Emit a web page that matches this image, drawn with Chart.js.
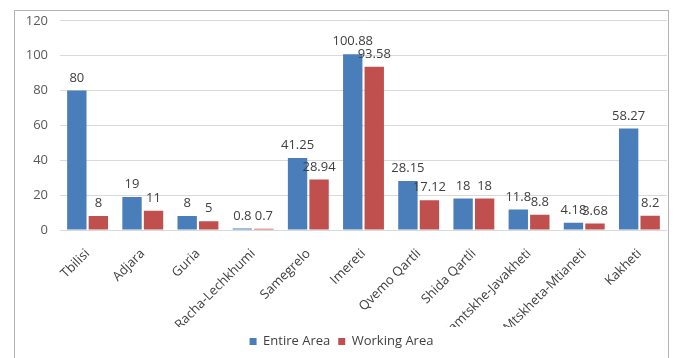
<!DOCTYPE html>
<html>
<head>
<meta charset="utf-8">
<script src="https://cdn.jsdelivr.net/npm/chart.js@4/dist/chart.umd.min.js"></script>
<style>
  body { margin: 0; background: #fff; width: 677px; height: 358px; overflow: hidden; position: relative; }
  #frame { position: absolute; left: 14px; top: 10px; width: 653px; height: 360px; border: 1px solid #b3b3b3; }
  #wrap { position: absolute; left: 16px; top: 1px; width: 651px; height: 357px; }
</style>
</head>
<body>
<div id="frame"></div>
<div id="wrap"><canvas id="regionChart"></canvas></div>
<script>
const regions = ['Tbilisi', 'Adjara', 'Guria', 'Racha-Lechkhumi', 'Samegrelo', 'Imereti', 'Qvemo Qartli', 'Shida Qartli', 'Samtskhe-Javakheti', 'Mtskheta-Mtianeti', 'Kakheti'];
const entireArea = [80, 19, 8, 0.8, 41.25, 100.88, 28.15, 18, 11.8, 4.18, 58.27];
const workingArea = [8, 11, 5, 0.7, 28.94, 93.58, 17.12, 18, 8.8, 3.68, 8.2];
const yTicks = [0, 20, 40, 60, 80, 100, 120];

const FONT = '"Open Sans", "Liberation Sans", sans-serif';

// value labels above each bar
const barLabels = {
    id: 'barLabels',
    afterDatasetsDraw(chart) {
        const ctx = chart.ctx;
        ctx.save();
        ctx.font = '13px ' + FONT;
        ctx.fillStyle = '#404040';
        ctx.textAlign = 'center';
        ctx.textBaseline = 'bottom';
        chart.data.datasets.forEach((ds, i) => {
            chart.getDatasetMeta(i).data.forEach((bar, j) => {
                ctx.fillText(String(ds.data[j]), bar.x, bar.y - 6);
            });
        });
        ctx.restore();
    }
};

const ctx = document.getElementById('regionChart').getContext('2d');
const regionChart = new Chart(ctx, {
    type: 'bar',
    data: {
        labels: regions,
        datasets: [{
            label: 'Entire Area',
            data: entireArea,
            backgroundColor: '#4a7ebb',
            barPercentage: 0.9,
            categoryPercentage: 0.78
        }, {
            label: 'Working Area',
            data: workingArea,
            backgroundColor: '#c0504d',
            barPercentage: 0.9,
            categoryPercentage: 0.78
        }]
    },
    options: {
        responsive: true,
        maintainAspectRatio: false,
        animation: false,
        layout: { padding: { top: 0, right: 0, bottom: 0, left: 0 } },
        plugins: {
            tooltip: { enabled: false },
            legend: {
                position: 'bottom',
                labels: {
                    boxWidth: 7,
                    boxHeight: 7,
                    padding: 8,
                    color: '#404040',
                    font: { family: FONT, size: 13 }
                }
            }
        },
        scales: {
            x: {
                grid: { display: false },
                border: { color: '#d9d9d9' },
                ticks: {
                    color: '#404040',
                    font: { family: FONT, size: 13 },
                    minRotation: 45,
                    maxRotation: 45,
                    padding: 8,
                    autoSkip: false
                },
                afterFit: scale => { scale.height = 97; }
            },
            y: {
                min: 0,
                max: 120,
                afterBuildTicks: scale => { scale.ticks = yTicks.map(v => ({ value: v })); },
                grid: { color: '#d9d9d9', drawTicks: false },
                border: { display: false },
                ticks: {
                    color: '#595959',
                    font: { family: FONT, size: 13 },
                    padding: 12
                },
                afterFit: scale => { scale.width = 44; }
            }
        }
    },
    plugins: [barLabels]
});
</script>
</body>
</html>
